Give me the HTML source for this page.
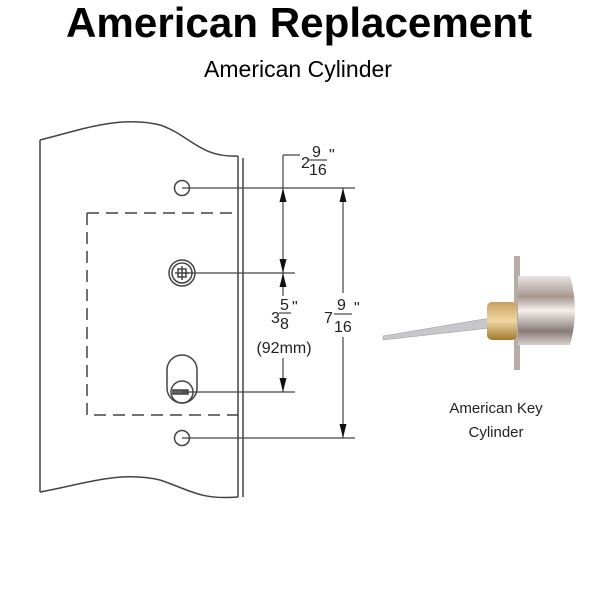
<!DOCTYPE html><html><head><style>body{margin:0;background:#fff}svg{display:block}</style></head><body>
<svg width="600" height="600" xmlns="http://www.w3.org/2000/svg">
<defs>
<linearGradient id="ch" x1="0" y1="0" x2="0" y2="1"><stop offset="0" stop-color="#e8e4e2"/><stop offset=".3" stop-color="#a89890"/><stop offset=".5" stop-color="#f4f0ee"/><stop offset=".8" stop-color="#8a7c78"/><stop offset="1" stop-color="#d8d0cc"/></linearGradient>
<linearGradient id="br" x1="0" y1="0" x2="0" y2="1"><stop offset="0" stop-color="#c8a060"/><stop offset=".5" stop-color="#f0d8a0"/><stop offset="1" stop-color="#a07830"/></linearGradient>
</defs>
<text x="299" y="37" text-anchor="middle" font-family="Liberation Sans, sans-serif" font-weight="bold" font-size="42" textLength="466" lengthAdjust="spacingAndGlyphs">American Replacement</text>
<text x="298" y="77" text-anchor="middle" font-family="Liberation Sans, sans-serif" font-size="23">American Cylinder</text>
<g fill="none" stroke="#444" stroke-width="1.5">
<path d="M40 140 C80 130 120 115 160 125 C190 135 200 158 238 156"/>
<path d="M40 492 C80 485 120 470 160 480 C190 490 200 500 238 497"/>
<path d="M40 140 V492"/>
<path d="M238 156 V497 M243 158 V497"/>
<path d="M87 213 H238 M87 213 V415 H238" stroke-dasharray="12,7"/>
<circle cx="182" cy="188" r="7.5"/>
<circle cx="182" cy="438" r="7.5"/>
<circle cx="182" cy="273" r="13"/><circle cx="182" cy="273" r="10"/>
<path d="M175 273 H189 M182 266 V280"/><rect x="178" y="269" width="8" height="8"/>
<rect x="167" y="355" width="30" height="48" rx="15"/>
<circle cx="182" cy="392" r="11"/>
<rect x="173" y="390" width="15" height="4" fill="#666"/>
<path d="M182 188 H355 M182 273 H295 M182 392 H295 M182 438 H355" stroke-width="1.2"/>
<path d="M283 155 H300 M283 155 V392 M343 188 V438" stroke-width="1.2"/>
</g>
<g fill="#111">
<path d="M283 188 l-3.5 14 h7z M283 273 l-3.5 -14 h7z M283 273 l-3.5 14 h7z M283 392 l-3.5 -14 h7z"/>
<path d="M343 188 l-3.5 14 h7z M343 438 l-3.5 -14 h7z"/>
</g>
<g font-family="Liberation Sans, sans-serif" font-size="16" fill="#222">
<rect x="301" y="150" width="45" height="30" fill="#fff"/>
<text x="301" y="168">2</text><text x="312" y="157">9</text><text x="309" y="175">16</text><path d="M309 160 H327" stroke="#222"/><text x="329" y="160">"</text>
<rect x="262" y="296" width="45" height="62" fill="#fff"/>
<text x="271" y="323">3</text><text x="280" y="310">5</text><text x="280" y="329">8</text><path d="M279 313 H291" stroke="#222"/><text x="292" y="312">"</text>
<text x="284" y="353" text-anchor="middle">(92mm)</text>
<rect x="322" y="293" width="44" height="44" fill="#fff"/>
<text x="324" y="323">7</text><text x="337" y="310">9</text><text x="334" y="332">16</text><path d="M334 314 H352" stroke="#222"/><text x="354" y="313">"</text>
</g>
<polygon points="383,336 490,318 490,328 383,340" fill="#c8c8cc" stroke="#999" stroke-width=".5"/>
<rect x="514" y="256" width="6" height="114" fill="#b8aca8"/>
<path d="M518 276 H570 Q580 310 570 345 H518z" fill="url(#ch)"/>
<rect x="487" y="302" width="30" height="38" rx="5" fill="url(#br)"/>
<text x="496" y="413" text-anchor="middle" font-family="Liberation Sans, sans-serif" font-size="15" fill="#222">American Key</text>
<text x="496" y="437" text-anchor="middle" font-family="Liberation Sans, sans-serif" font-size="15" fill="#222">Cylinder</text>
</svg></body></html>
